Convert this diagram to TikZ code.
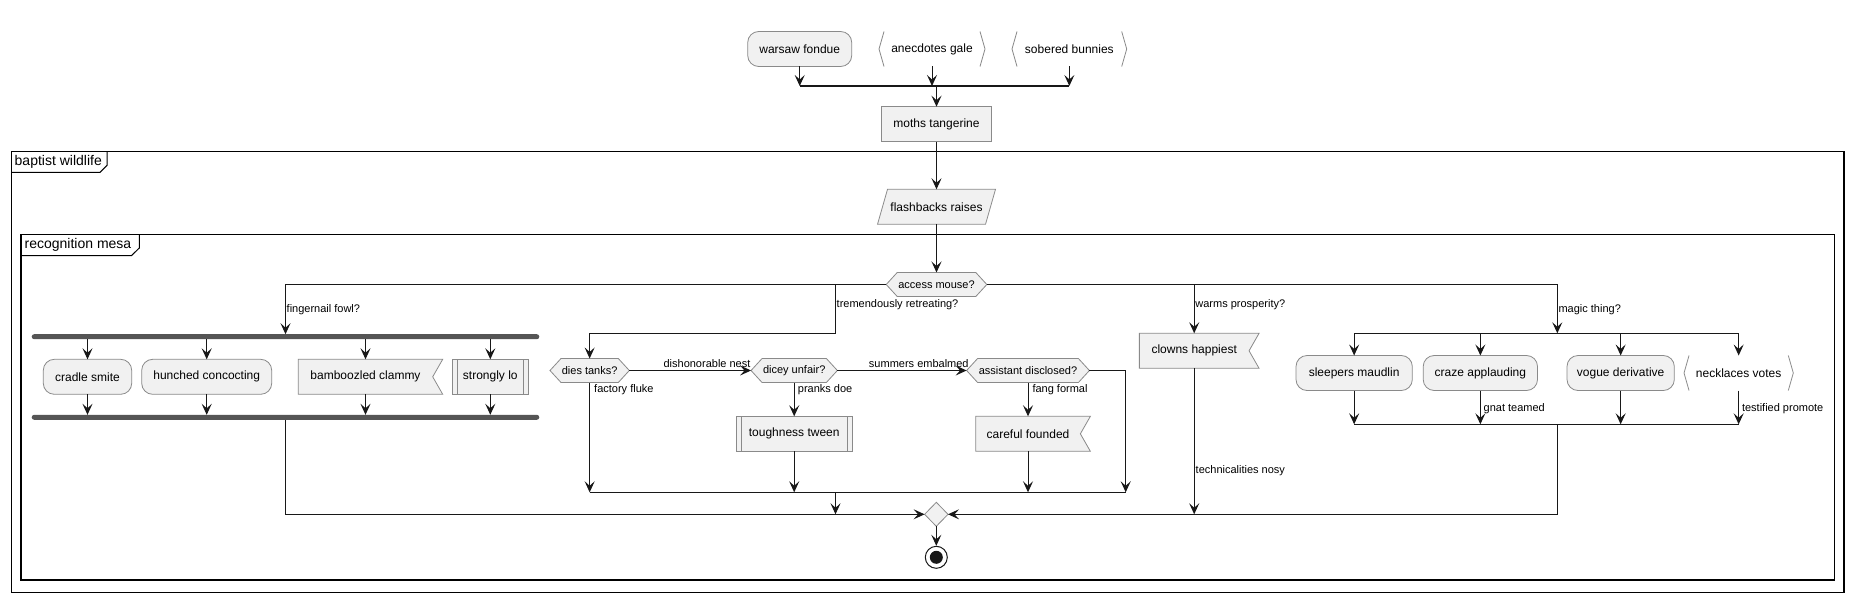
\documentclass[tikz,border=0pt]{standalone}
\usepackage{fontspec}
\setmainfont{Liberation Sans}
\usetikzlibrary{arrows.meta,backgrounds,calc}
\definecolor{bd}{HTML}{8A8A8A}
\definecolor{fl}{HTML}{F1F1F1}
\definecolor{ln}{HTML}{181818}
\definecolor{br}{HTML}{555555}
\tikzset{
  base/.style={inner sep=0pt, outer sep=0pt, font=\fontsize{12}{14}\selectfont, text=black},
  rbox/.style={base, draw=bd, fill=fl, rounded corners=11pt, minimum height=35pt, line width=0.8pt},
  pbox/.style={base, draw=bd, fill=fl, minimum height=35pt, line width=0.8pt},
  tbox/.style={base, minimum height=35pt},
  hbox/.style={base, font=\fontsize{11}{13}\selectfont, minimum height=24pt},
  lbl/.style={inner sep=0pt, font=\fontsize{11}{13}\selectfont, anchor=west},
  clbl/.style={inner sep=0pt, font=\fontsize{11}{13}\selectfont},
  conn/.style={draw=ln, line width=1pt},
  arr/.style={conn, -{Stealth[length=11pt,width=10pt,inset=4.5pt]}},
  shp/.style={draw=bd, fill=fl, line width=0.8pt},
  thinbar/.style={draw=ln, line width=1.6pt},
  thickbar/.style={fill=br, draw=none, rounded corners=2.5pt, inner sep=0pt, outer sep=0pt, minimum height=5pt},
  frm/.style={draw=black, line width=1.3pt},
  ttl/.style={inner sep=0pt, anchor=west, font=\fontsize{14}{16}\selectfont},
}
\newcommand\mkflag[1]{\filldraw[shp] (#1.north west) -- ([xshift=10pt]#1.north east) -- (#1.east) -- ([xshift=10pt]#1.south east) -- (#1.south west) -- cycle;}
\newcommand\mkhex[1]{\filldraw[shp] (#1.north west) -- (#1.north east) -- ([xshift=11pt]#1.east) -- (#1.south east) -- (#1.south west) -- ([xshift=-11pt]#1.west) -- cycle;}
\newcommand\mkbrk[1]{\draw[draw=bd, line width=0.8pt] ([xshift=5pt]#1.north west) -- (#1.west) -- ([xshift=5pt]#1.south west) ([xshift=-5pt]#1.north east) -- (#1.east) -- ([xshift=-5pt]#1.south east);}
\newcommand\mksub[1]{\draw[draw=bd, line width=0.8pt] ([xshift=5pt]#1.north west) -- ([xshift=5pt]#1.south west) ([xshift=-5pt]#1.north east) -- ([xshift=-5pt]#1.south east);}
\begin{document}
\begin{tikzpicture}[x=1pt,y=-1pt]
\useasboundingbox (0,0) rectangle (1854,602);

% frames
\draw[frm] (11.7,151.7) rectangle (1844,592.3);
\draw[frm, line width=1pt] (11.7,172.3) -- (100,172.3) -- (107,165.3) -- (107,151.7);
\node[ttl] (tbw) at (14.5,162.3) {baptist wildlife};
\draw[frm] (21,234.7) rectangle (1834.3,580);
\draw[frm, line width=1pt] (21,255.7) -- (131.4,255.7) -- (139.3,248) -- (139.3,234.7);
\node[ttl] (trm) at (24.5,245.2) {recognition mesa};

% top nodes
\node[rbox, minimum width=104pt] (warsaw) at (799.7,49) {warsaw fondue};
\node[tbox, minimum width=106pt] (anec) at (932,49) {anecdotes gale};
\node[tbox, minimum width=114.7pt] (sober) at (1069.35,49) {sobered bunnies};
\coordinate (sp1) at (936.5,86);
\node[pbox, minimum width=110.4pt] (moths) at (936.5,124.2) {moths tangerine};
\node[tbox, minimum width=108pt] (flash) at (936.5,206.8) {flashbacks raises};
\node[hbox, minimum width=78.6pt] (access) at (936.5,284.5) {access mouse?};

% left fork
\node[thickbar, minimum width=507.6pt] (fk1) at (285.5,336.7) {};
\node[rbox, minimum width=88.4pt] (cradle) at (87.5,376.8) {cradle smite};
\node[rbox, minimum width=130pt] (hunch) at (206.7,376.8) {hunched concocting};
\node[tbox, minimum width=134.4pt] (bamb) at (365.5,376.8) {bamboozled clammy};
\node[pbox, minimum width=76pt] (strong) at (490.3,376.8) {strongly lo};
\node[thickbar, minimum width=507.6pt] (jn1) at (285.5,417.3) {};

% second branch
\node[hbox, minimum width=57.3pt] (dies) at (589.65,370.5) {dies tanks?};
\node[hbox, minimum width=64.3pt] (dicey) at (794.2,370.5) {dicey unfair?};
\node[hbox, minimum width=100.8pt] (assist) at (1028,370.5) {assistant disclosed?};
\node[pbox, minimum width=115.4pt] (tough) at (794.2,433.8) {toughness tween};
\node[tbox, minimum width=104.7pt] (care) at (1028,433.8) {careful founded};
\coordinate (tr1) at (835.5,284.5);
\coordinate (tr2) at (835.5,333.3);
\coordinate (mg1) at (835.5,492.3);
\coordinate (mgR) at (1125.7,492.3);

% third branch
\node[tbox, minimum width=109.7pt] (clown) at (1194.2,350.8) {clowns happiest};
\coordinate (wm) at (1194.2,284.5);

% right fork
\coordinate (fk2L) at (1355,333.3);
\coordinate (fk2R) at (1738.65,333.3);
\coordinate (fk2c) at (1557.3,333.3);
\node[rbox, minimum width=116.3pt] (sleep) at (1354.15,373) {sleepers maudlin};
\node[rbox, minimum width=114.3pt] (craze) at (1480.35,373) {craze applauding};
\node[rbox, minimum width=107.3pt] (vogue) at (1620.65,373) {vogue derivative};
\node[tbox, minimum width=109.3pt] (neck) at (1738.65,373) {necklaces votes};
\coordinate (jn2L) at (1354.15,424.3);
\coordinate (jn2R) at (1738.65,424.3);
\coordinate (jn2c) at (1557.3,424.3);

% merge and end
\node[base, minimum width=23.4pt, minimum height=24pt] (dia) at (936.3,514.3) {};
\node[circle, draw=ln, line width=1pt, minimum size=22pt, inner sep=0pt] (end) at (936.3,557.3) {};
\fill[ln] (end.center) circle (6.5pt);

% background shapes
\begin{scope}[on background layer]
\fill[white] (0,0) rectangle (1854,602);
\mkbrk{anec}
\mkbrk{sober}
\mkbrk{neck}
\filldraw[shp] ([xshift=-5pt]flash.south west) -- ([xshift=5pt]flash.north west) -- ([xshift=5pt]flash.north east) -- ([xshift=-5pt]flash.south east) -- cycle;
\mkhex{access}
\mkhex{dies}
\mkhex{dicey}
\mkhex{assist}
\mkflag{bamb}
\mkflag{care}
\mkflag{clown}
\filldraw[shp] (dia.north) -- (dia.east) -- (dia.south) -- (dia.west) -- cycle;
\end{scope}
\mksub{strong}
\mksub{tough}

% top connectors
\draw[arr] (warsaw.south) -- (warsaw.south |- sp1);
\draw[arr] (anec.south) -- (anec.south |- sp1);
\draw[arr] (sober.south) -- (sober.south |- sp1);
\draw[thinbar] (warsaw.south |- sp1) -- (sober.south |- sp1);
\draw[arr] (sp1) -- (moths.north);
\draw[arr] (moths.south) -- (flash.north);
\draw[arr] (flash.south) -- (access.north);

% branches from access mouse
\draw[arr] ([xshift=-11pt]access.west) -| (fk1.north);
\node[lbl] (lfing) at (286.5,309.3) {fingernail fowl?};
\draw[arr] (tr1) -- (tr2) -| (dies.north);
\node[lbl] (ltrem) at (836.5,304.5) {tremendously retreating?};
\draw[arr] ([xshift=11pt]access.east) -| (fk2c);
\node[lbl] (lmagic) at (1558.3,309.3) {magic thing?};
\draw[arr] (wm) -- (clown.north);
\node[lbl] (lwarm) at (1195.2,304.5) {warms prosperity?};

% left fork
\foreach \n in {cradle,hunch,bamb,strong}{
  \draw[arr] (fk1.south -| \n.north) -- (\n.north);
  \draw[arr] (\n.south) -- (jn1.north -| \n.south);
}
\draw[arr] (jn1.south) |- (dia.west);

% dies tanks chain
\draw[arr] ([xshift=11pt]dies.east) -- ([xshift=-11pt]dicey.west);
\node[clbl] (ldish) at (707,364) {dishonorable nest};
\draw[arr] ([xshift=11pt]dicey.east) -- ([xshift=-11pt]assist.west);
\node[clbl] (lsumm) at (918.8,364) {summers embalmed};
\draw[arr] (dies.south) -- (dies.south |- mg1);
\node[lbl] (lfact) at (594,390) {factory fluke};
\draw[arr] (dicey.south) -- (tough.north);
\node[lbl] (lpran) at (797.7,390) {pranks doe};
\draw[arr] (tough.south) -- (tough.south |- mg1);
\draw[arr] (assist.south) -- (care.north);
\node[lbl] (lfang) at (1032.3,390) {fang formal};
\draw[arr] (care.south) -- (care.south |- mg1);
\draw[arr] ([xshift=11pt]assist.east) -| (mgR);
\draw[conn] (dies.south |- mg1) -- (mgR);
\draw[arr] (mg1) -- (mg1 |- dia.west);

% clowns
\draw[arr] (clown.south) -- (clown.south |- dia.west);
\node[lbl] (ltech) at (1195.5,470.7) {technicalities nosy};

% right fork
\draw[thinbar] (fk2L) -- (fk2R);
\foreach \n in {sleep,craze,vogue,neck}{
  \draw[arr] (fk2L -| \n.north) -- (\n.north);
  \draw[arr] (\n.south) -- (jn2L -| \n.south);
}
\draw[thinbar] (jn2L) -- (jn2R);
\node[lbl] (lgnat) at (1483.5,408.3) {gnat teamed};
\node[lbl] (ltest) at (1741.8,408.3) {testified promote};
\draw[arr] (jn2c) |- (dia.east);

% end
\draw[arr] (dia.south) -- (end.north);
\end{tikzpicture}
\end{document}
